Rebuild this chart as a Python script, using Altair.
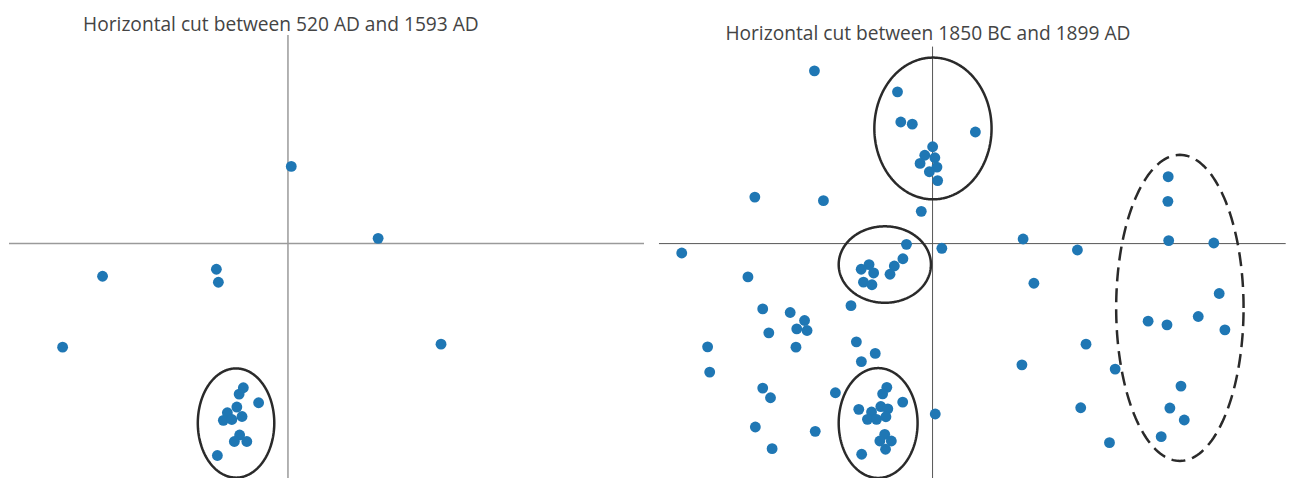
import altair as alt
import numpy as np
import pandas as pd

# ---- Data: positions relative to the origin of each panel (units = px of original) ----
# Panel 1: horizontal cut between 520 AD and 1593 AD
left_x = [3.3, 90.3, -185.7, -71.7, -69.7, -225.7, 153.3,
          -44.7, -48.9, -29.4, -51.2, -60.7, -46.0, -64.7, -56.2, -48.4, -53.7, -41.2, -70.7]
left_y = [77.3, 5.3, -32.7, -25.7, -38.7, -103.7, -100.7,
          -144.4, -150.7, -159.4, -163.7, -169.4, -173.2, -177.0, -176.2, -191.7, -198.2, -198.2, -212.2]

# Panel 2: horizontal cut between 1850 BC and 1899 AD
right_x = [-118.3, -35.1, -31.8, -20.3, 42.9, 0.1, -7.8, 2.3, -12.5, 4.4, -3.2, 5.1,
           -178.0, -109.3, -11.3, -251.2, -184.9, -26.1, 9.3, 90.7, 145.1, 236.5, 281.7,
           236.0, 235.7, 101.5, 287.1, 266.1, 215.9, 234.8, 292.8, 153.7, 182.9, 89.5,
           248.8, 148.4, 237.7, 252.1, 229.0, 177.2, 2.7,
           -29.7, -38.3, -42.6, -63.6, -71.5, -59.0, -69.2, -60.7, -81.7,
           -170.1, -142.6, -128.2, -136.0, -125.7, -164.0, -225.3, -136.8, -76.3, -57.4,
           -71.3, -223.2, -170.1, -162.3, -97.3, -177.5, -117.5, -160.7,
           -45.8, -50.0, -29.9, -73.9, -51.8, -44.8, -61.1, -65.2, -56.1, -46.7, -47.9,
           -52.8, -41.3, -47.1, -71.0]
right_y = [173.0, 152.0, 121.8, 119.6, 111.8, 97.0, 88.5, 86.0, 80.3, 76.6, 72.0, 63.1,
           46.6, 43.0, 32.3, -9.4, -33.4, -0.7, -4.7, 4.6, -6.4, 3.0, 0.6,
           67.0, 42.3, -39.7, -50.0, -73.0, -77.7, -81.4, -86.4, -100.7, -125.7, -121.4,
           -142.7, -164.4, -164.7, -176.7, -193.4, -199.4, -170.7,
           -15.2, -22.4, -30.7, -21.0, -25.7, -29.4, -38.6, -41.2, -62.2,
           -65.4, -69.0, -77.0, -85.4, -87.0, -89.4, -103.4, -103.7, -98.4, -110.0,
           -118.2, -128.7, -144.7, -154.4, -149.4, -183.7, -188.0, -205.4,
           -144.0, -150.5, -158.7, -166.0, -163.2, -165.5, -168.7, -176.0, -176.0, -173.4, -191.0,
           -197.7, -197.7, -206.0, -211.0]

# Cluster ellipses (annotation shapes)
ell_panel = ["left", "right", "right", "right", "right"]
ell_cx = [-52.0, 0.4, -47.8, -54.5, 247.7]
ell_cy = [-179.7, 115.3, -21.0, -179.7, -64.4]
ell_rx = [38.3, 58.7, 46.2, 39.5, 63.8]
ell_ry = [54.7, 71.0, 38.3, 55.0, 153.3]
ell_style = ["solid", "solid", "solid", "solid", "dashed"]

titles = ["Horizontal cut between 520 AD and 1593 AD",
          "Horizontal cut between 1850 BC and 1899 AD"]

POINT_COLOR = "#1f77b4"


def ellipse_frame(panel):
    rows = []
    t = np.linspace(0, 2 * np.pi, 181)
    for i, p in enumerate(ell_panel):
        if p != panel:
            continue
        for k, tt in enumerate(t):
            rows.append({"id": i, "k": k,
                         "x": ell_cx[i] + ell_rx[i] * np.cos(tt),
                         "y": ell_cy[i] + ell_ry[i] * np.sin(tt),
                         "style": ell_style[i]})
    return pd.DataFrame(rows)


def panel(xs, ys, panel_name, title, xdom, ydom, w, h, title_dx, title_dy,
          axis_color, axis_width, vtop):
    xs_ = alt.Scale(domain=xdom, nice=False, zero=False)
    ys_ = alt.Scale(domain=ydom, nice=False, zero=False)
    pts = pd.DataFrame({"x": xs, "y": ys})

    hrule = alt.Chart(pd.DataFrame({"y": [0.0]})).mark_rule(
        color=axis_color, strokeWidth=axis_width
    ).encode(y=alt.Y("y:Q", scale=ys_, axis=None))
    vrule = alt.Chart(pd.DataFrame({"x": [0.0], "y": [vtop], "y2": [ydom[0]]})).mark_rule(
        color=axis_color, strokeWidth=axis_width
    ).encode(x=alt.X("x:Q", scale=xs_, axis=None),
             y=alt.Y("y:Q", scale=ys_, axis=None), y2="y2:Q")

    dots = alt.Chart(pts).mark_circle(size=118, opacity=1, color=POINT_COLOR, clip=True).encode(
        x=alt.X("x:Q", scale=xs_, axis=None),
        y=alt.Y("y:Q", scale=ys_, axis=None),
    )
    ell = alt.Chart(ellipse_frame(panel_name)).mark_line(
        color="#2a2a2a", strokeWidth=2.5, clip=True
    ).encode(
        x=alt.X("x:Q", scale=xs_, axis=None),
        y=alt.Y("y:Q", scale=ys_, axis=None),
        detail="id:N",
        order="k:Q",
        strokeDash=alt.StrokeDash("style:N", scale=alt.Scale(domain=["solid", "dashed"],
                                                            range=[[1, 0], [14, 7]]),
                                  legend=None),
    )
    return alt.layer(hrule, vrule, dots, ell).properties(
        width=w, height=h,
        title=alt.TitleParams(text=title, anchor="start", frame="group", dx=title_dx,
                              dy=title_dy, offset=3, baseline="alphabetic",
                              fontSize=19.2, font="Open Sans", fontWeight="normal",
                              color="#444444"),
    )


YDOM = [-235.7, 209.0]
left = panel(left_x, left_y, "left", titles[0], [-279.4, 356.6], YDOM, 636, 444.7,
             74.2, 18.9, "#9a9a9a", 1.5, YDOM[1])
right = panel(right_x, right_y, "right", titles[1], [-274.0, 353.7], YDOM, 627.7, 444.7,
              66.5, 27.2, "#555555", 1.0, 197.3)

chart = alt.hconcat(left, right, spacing=15, bounds="flush").configure_view(
    stroke=None
).properties(padding={"left": 0, "top": 6.6, "right": 0, "bottom": 0}, background="white")

chart.save("out.html", embed_options={"renderer": "svg", "actions": False})
